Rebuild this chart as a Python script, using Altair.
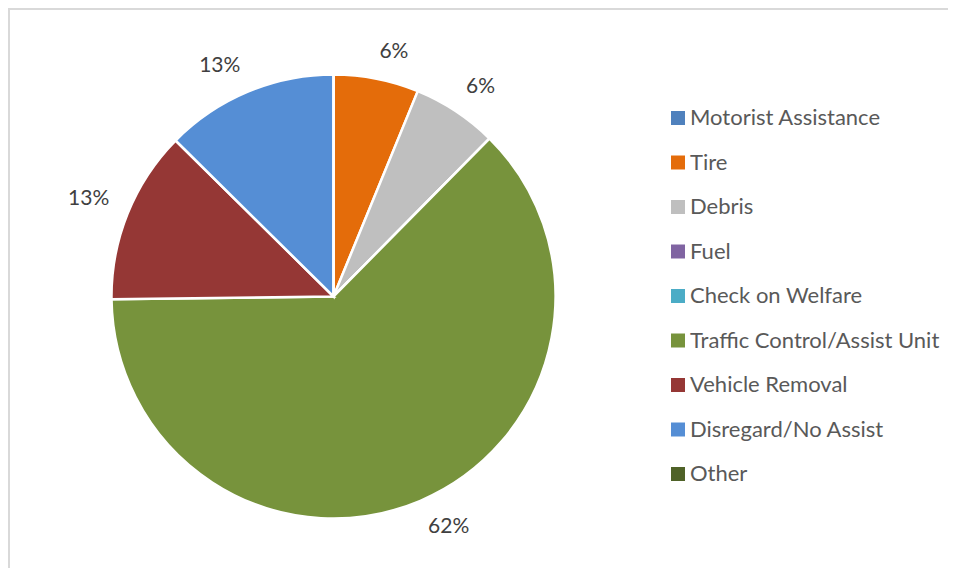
import altair as alt
import pandas as pd

categories = [
    "Motorist Assistance",
    "Tire",
    "Debris",
    "Fuel",
    "Check on Welfare",
    "Traffic Control/Assist Unit",
    "Vehicle Removal",
    "Disregard/No Assist",
    "Other",
]
shares = [0, 6.2, 6.2, 0, 0, 62.4, 12.6, 12.6, 0]
colors = [
    "#4F81BD",
    "#E46C0A",
    "#BFBFBF",
    "#8064A2",
    "#4BACC6",
    "#77933C",
    "#953735",
    "#558ED5",
    "#4F6228",
]

df = pd.DataFrame({"category": categories, "share": shares, "idx": list(range(len(categories)))})

W, H = 940, 560
CX, CY = 325.5, 288.5

base = alt.Chart(df)

pie = base.mark_arc(x=CX, y=CY, outerRadius=222, stroke="white", strokeWidth=2.5).encode(
    theta=alt.Theta("share:Q", stack=True),
    color=alt.Color(
        "category:N",
        scale=alt.Scale(domain=categories, range=colors),
        legend=alt.Legend(
            title=None,
            orient="none",
            legendX=659,
            legendY=99,
            symbolType="square",
            symbolSize=196,
            symbolStrokeWidth=0,
            labelFont="Lato",
            labelFontSize=22,
            labelColor="#595959",
            rowPadding=22.5,
            labelOffset=1,
            padding=0,
            labelLimit=400,
        ),
    ),
    order=alt.Order("idx:Q"),
)

# "outside end" placement: label box pushed off the slice's mid-angle point
labels = (
    base.transform_joinaggregate(total="sum(share)")
    .transform_window(cum="sum(share)", sort=[alt.SortField("idx")], frame=[None, 0])
    .transform_calculate(
        label="round(datum.share) + '%'",
        ang="2 * PI * (datum.cum - datum.share / 2) / datum.total",
    )
    .transform_calculate(
        ldx="(sin(datum.ang) >= 0 ? 1 : -1) * 6.8 * length(datum.label)",
        ldy="(cos(datum.ang) >= 0 ? -1 : 1) * 7.5",
    )
    .transform_filter("datum.share > 0")
    .mark_text(
        x=CX,
        y=CY,
        radius=242,
        fontSize=21,
        font="Lato",
        color="#404040",
        dx=alt.expr("datum.ldx"),
        dy=alt.expr("datum.ldy"),
    )
    .encode(
        theta=alt.Theta("share:Q", stack=True),
        order=alt.Order("idx:Q"),
        detail="category:N",
        text="label:N",
    )
)

top_border = base.mark_rule(color="#d9d9d9", strokeWidth=2).encode(
    x=alt.value(0), x2=alt.value(W), y=alt.value(1)
)
left_border = base.mark_rule(color="#d9d9d9", strokeWidth=2).encode(
    x=alt.value(1), y=alt.value(0), y2=alt.value(H)
)

chart = alt.layer(top_border, left_border, pie, labels).properties(
    width=W, height=H, padding=0, autosize=alt.AutoSizeParams(type="none")
).configure_view(stroke=None)

chart.save("out.html", embed_options={"renderer": "svg", "actions": False})
